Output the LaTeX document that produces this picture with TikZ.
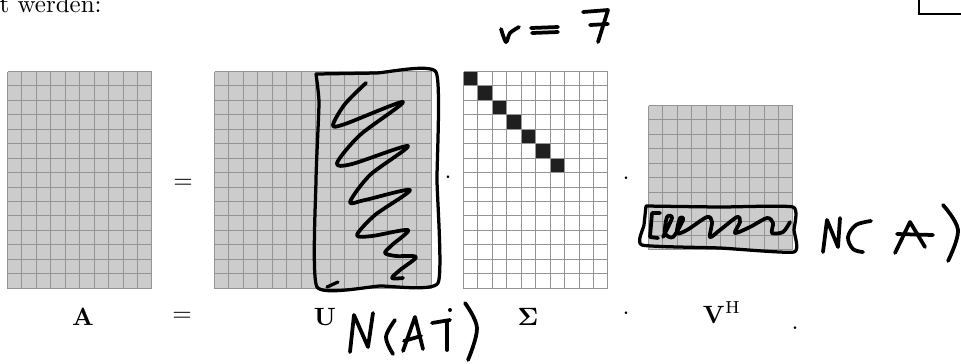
\documentclass[tikz,border=0pt]{standalone}
\usepackage{amsmath}
\newcommand\gridmat[5]{%
  \fill[#5] ({#1+0.5},{#2+0.5}) rectangle ({round(#1+#3*14.45)+0.5},{round(#2+#4*14.45)+0.5});
  \foreach \i in {0,...,#3} \draw[gridline] ({round(#1+\i*14.45)+0.5},{#2+0.5}) -- ({round(#1+\i*14.45)+0.5},{round(#2+#4*14.45)+0.5});
  \foreach \j in {0,...,#4} \draw[gridline] ({#1+0.5},{round(#2+\j*14.45)+0.5}) -- ({round(#1+#3*14.45)+0.5},{round(#2+\j*14.45)+0.5});
}
\begin{document}
\begin{tikzpicture}[x=0.4pt,y=-0.4pt,
  cellgray/.style={fill=black!20},
  cellwhite/.style={fill=white},
  gridline/.style={draw=black!42,line width=0.4pt},
  diagcell/.style={fill=black!88},
  ink/.style={line width=1.5pt,line cap=round,line join=round},
  box/.style={line width=1.3pt,line cap=round,line join=round},
  lbl/.style={anchor=base,inner sep=0pt}]
\useasboundingbox (0,0) rectangle (961,363);
\clip (0,0) rectangle (961,363);

% top text fragment
\node[anchor=base west,inner sep=0pt] (intro) at (-1,12) {t werden:};
% top-right corner mark
\coordinate (cA) at (919,-2);
\coordinate (cB) at (919,14);
\coordinate (cC) at (963,14);
\draw[line width=0.8pt] (cA) -- (cB) -- (cC);

% matrices
\gridmat{7}{71}{10}{15}{cellgray}
\gridmat{214}{71}{15}{15}{cellgray}
\fill[white] (463,71) rectangle ++({10*14.45},{15*14.45});
\foreach \k in {0,...,6} \fill[diagcell] ({round(463+\k*14.45)+0.5},{round(71+\k*14.45)+0.5}) rectangle ({round(463+(\k+1)*14.45)+0.5},{round(71+(\k+1)*14.45)+0.5});
\foreach \i in {0,...,10} \draw[gridline] ({round(463+\i*14.45)+0.5},71.5) -- ({round(463+\i*14.45)+0.5},{round(71+15*14.45)+0.5});
\foreach \j in {0,...,15} \draw[gridline] (463.5,{round(71+\j*14.45)+0.5}) -- ({round(463+10*14.45)+0.5},{round(71+\j*14.45)+0.5});
\gridmat{648}{105}{10}{10}{cellgray}

% operators between matrices
\node[lbl] (eq1) at (183,188) {$=$};
\node[lbl] (dot1) at (448,183) {$\cdot$};
\node[lbl] (dot2) at (626,184) {$\cdot$};

% bottom labels
\node[lbl] (lA) at (83,325) {$\mathbf{A}$};
\node[lbl] (leq) at (182,321) {$=$};
\node[lbl] (lU) at (325,325) {$\mathbf{U}$};
\node[lbl] (lS) at (528,325) {$\mathbf{\Sigma}$};
\node[lbl] (ldot) at (626,319) {$\cdot$};
\node[lbl] (lV) at (722,323) {$\mathbf{V}^{\mathrm{H}}$};
\node[lbl] (lend) at (795,329) {.};

% handwriting: r = 7
\draw[ink] plot[smooth,tension=0.5] coordinates {(501,29) (506,42) (510,33) (519,27)};
\draw[ink] (531,28) -- (558,27);
\draw[ink] (532,33) -- (558,32);
\draw[ink] (583,12) -- (608,10) -- (598,42);
\draw[ink] (590,25) -- (608,24);

% handwriting box in U
\draw[box] plot[smooth,tension=0.3] coordinates {(316,74) (376,73) (436,72) (437,180) (438,283) (380,286) (317,287) (316,180) (319,103) (316,74)};
\draw[box] (338,282) -- (327,287);
% zigzag
\draw[ink] plot[smooth,tension=0.5] coordinates {(366,83) (345,104) (333,125) (345,124) (403,102) (360,135) (337,163) (352,164) (408,146) (370,175) (350,202) (365,200) (410,190) (375,215) (357,235) (372,236) (408,230) (392,245) (385,253) (396,256) (416,257) (400,270) (392,278) (403,278)};

% handwriting box in V^H
\draw[box] plot[smooth,tension=0.3] coordinates {(646,206) (720,207) (793,207) (794,230) (794,252) (720,248) (642,245) (644,225) (646,206)};
\draw[ink] (660,213) -- (652,213) -- (650,237) -- (658,238);
\draw[ink] plot[smooth,tension=0.5] coordinates {(663,237) (672,218) (667,217) (665,233) (673,237) (683,220) (680,218) (677,233) (687,230) (707,217) (712,222) (710,237) (720,230) (737,217) (740,222) (735,233) (750,227) (767,218) (773,223) (772,233) (783,232) (790,222)};

% N(A)
\draw[ink] (823,252) -- (827,220) -- (838,247) -- (840,218);
\draw[ink] plot[smooth,tension=0.6] coordinates {(871,221) (856,225) (848,237) (853,249) (863,252)};
\draw[ink] (895,253) -- (910,222) -- (925,247);
\draw[ink] (897,234) -- (933,235);
\draw[ink] plot[smooth,tension=0.6] coordinates {(943,205) (958,230) (948,261)};

% N(AT)
\draw[ink] (350,352) -- (354,315) -- (368,347) -- (373,313);
\draw[ink] plot[smooth,tension=0.6] coordinates {(395,320) (386,337) (393,354)};
\draw[ink] (403,351) -- (415,317) -- (423,349);
\draw[ink] (404,341) -- (421,336);
\draw[ink] (432,323) -- (450,320);
\draw[ink] (447,322) -- (447,350);
\fill (450,310) circle (2);
\draw[ink] plot[smooth,tension=0.6] coordinates {(465,303) (477,328) (468,360)};
\end{tikzpicture}
\end{document}
